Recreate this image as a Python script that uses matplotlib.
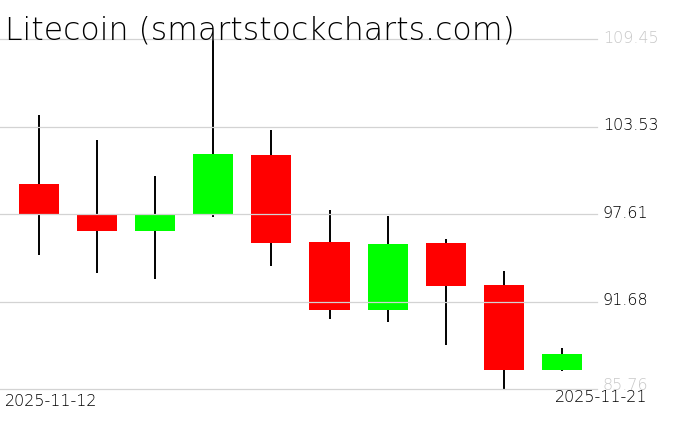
import matplotlib
matplotlib.use('Agg')
import matplotlib.pyplot as plt
import matplotlib.transforms as mtransforms
import numpy as np

# daily OHLC values, 2025-11-12 .. 2025-11-21
opens = [99.64, 97.54, 96.46, 97.61, 101.60, 95.71, 91.11, 95.64, 92.80, 87.05]
highs = [104.31, 102.61, 100.18, 109.45, 103.29, 97.88, 97.47, 95.91, 93.75, 88.54]
lows = [94.83, 93.61, 93.21, 97.40, 94.09, 90.50, 90.30, 88.74, 85.76, 86.98]
closes = [97.61, 96.46, 97.54, 101.67, 95.64, 91.11, 95.58, 92.73, 87.05, 88.13]
first_label = '2025-11-12'
last_label = '2025-11-21'

W, H = 676, 431
fig = plt.figure(figsize=(W / 100, H / 100), dpi=100)
ax = fig.add_axes([0, (H - 390) / H, 597 / W, 350 / H])

x = np.arange(len(opens))
lo, hi = min(lows), max(highs)
ticks = np.linspace(lo, hi, 5)

for t in ticks:
    ax.axhline(t, color='#d3d3d3', lw=0.9, zorder=3, clip_on=False)

ax.vlines(x, lows, highs, color='black', lw=1.4, zorder=1)
colors = ['#00ff00' if c >= o else '#ff0000' for o, c in zip(opens, closes)]
bottoms = [min(o, c) for o, c in zip(opens, closes)]
heights = [abs(c - o) for o, c in zip(opens, closes)]
ax.bar(x, heights, bottom=bottoms, width=0.69, color=colors, zorder=2)

ax.set_xlim(-39 / 58.1, 558 / 58.1)
ax.set_ylim(lo, hi)
for s in ax.spines.values():
    s.set_visible(False)
ax.set_xticks([])
ax.yaxis.tick_right()
ax.set_yticks(ticks)
ax.set_yticklabels(['%.2f' % t for t in ticks])
ax.tick_params(axis='y', length=0, pad=4.3, labelsize=11.5)
for i, lab in enumerate(ax.get_yticklabels()):
    up = 6 if i == 0 else 3
    lab.set_transform(lab.get_transform() + mtransforms.ScaledTranslation(0, up / 100, fig.dpi_scale_trans))
    lab.set_fontweight('light')
    if i in (0, len(ticks) - 1):
        lab.set_color('#c8c8c8')
    else:
        lab.set_color('black')

fig.text(5 / W, (H - 40) / H, 'Litecoin (smartstockcharts.com)', fontsize=22.7,
         va='baseline', ha='left', fontweight='light')
fig.text(5 / W, (H - 402) / H, first_label, fontsize=11.5, va='center', ha='left',
         fontweight='light')
fig.text(647 / W, (H - 398) / H, last_label, fontsize=11.5, va='center', ha='right',
         fontweight='light')

fig.savefig('out.png', dpi=100)
